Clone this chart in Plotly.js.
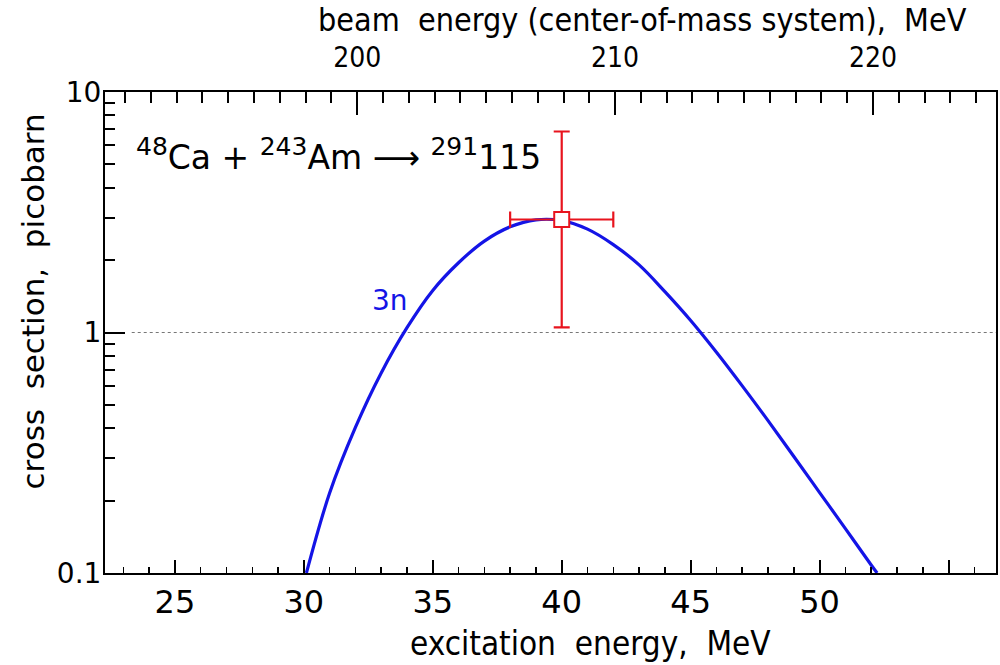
<!DOCTYPE html>
<html>
<head>
<meta charset="utf-8">
<script src="https://cdn.plot.ly/plotly-3.0.1.min.js"></script>
<style>
  html, body { margin: 0; padding: 0; background: #ffffff; }
  #chart { width: 1000px; height: 665px; }
</style>
</head>
<body>
<div id="chart"></div>
<script>
// ---- data ----
// calculated 3n evaporation cross section (excitation energy E*, MeV ; sigma, pb)
var curveE = [30.1, 31, 32, 33, 34, 35, 36, 37, 38, 39, 40, 41, 42, 43, 44, 45, 46, 47, 48, 49, 50, 51, 52, 52.23];
var curveSigma = [0.1, 0.215, 0.403, 0.679, 1.047, 1.496, 1.95, 2.40, 2.75, 2.94, 2.92, 2.69, 2.32, 1.91,
                  1.479, 1.122, 0.828, 0.600, 0.430, 0.305, 0.216, 0.153, 0.108, 0.1];

// measured point
var expE = [40];
var expSigma = [2.95];
var expErrE = [2.0];
var expErrUp = [3.9];
var expErrDown = [1.9];

// conversion E* -> E_cm (MeV)
var Qoffset = 167.93;

// axes
var xRange = [22.29, 56.84];
var xTickVals = [25, 30, 35, 40, 45, 50, 55];
var xTickText = ['25', '30', '35', '40', '45', '50', ''];
var topTickVals = [200, 210, 220];
var topTickText = ['200', '210', '220'];
var yTickVals = [0.1, 1, 10];
var yTickText = ['0.1', '1', '10'];
var refLevel = 1;

// label for the curve (position in data units)
var curveLabel = '3n';
var curveLabelE = 33.33;
var curveLabelSigma = 1.36;

// texts
var supStyle = 'font-size:25px';
var reactionText = '<sup><span style="' + supStyle + '">48</span></sup>Ca + ' +
                   '<sup><span style="' + supStyle + '">243</span></sup>Am \u27F6 ' +
                   '<sup><span style="' + supStyle + '">291</span></sup>115';
var xTitle = 'excitation  energy,  MeV';
var topTitle = 'beam  energy (center-of-mass system),  MeV';
var yTitle = 'cross  section,  picobarn';

// minor tick positions on log axis
var yMinor = [];
[0.1, 1].forEach(function (d) { for (var k = 2; k <= 9; k++) yMinor.push(+(d * k).toFixed(3)); });

var wide = '"DejaVu Sans", Verdana, sans-serif';
var narrow = '"DejaVu Sans Condensed", "Liberation Sans Narrow", "Liberation Sans", Arial, sans-serif';

var traces = [
  {
    x: curveE, y: curveSigma, type: 'scatter', mode: 'lines',
    line: { color: '#1414e6', width: 3.2, shape: 'spline', smoothing: 1 },
    hoverinfo: 'skip', showlegend: false
  },
  {
    x: expE, y: expSigma, type: 'scatter', mode: 'markers',
    marker: { symbol: 'square', size: 15, color: '#ffffff', line: { color: '#e8141e', width: 2 } },
    error_x: { type: 'data', array: expErrE, color: '#e8141e', thickness: 2.2, width: 8 },
    error_y: { type: 'data', symmetric: false, array: expErrUp, arrayminus: expErrDown,
               color: '#e8141e', thickness: 2.2, width: 8 },
    showlegend: false
  },
  {
    // carrier for the top (center-of-mass) axis
    x: [xRange[0] + Qoffset, xRange[1] + Qoffset], y: [refLevel, refLevel],
    xaxis: 'x2', type: 'scatter', mode: 'lines', line: { width: 0, color: 'rgba(0,0,0,0)' },
    hoverinfo: 'skip', showlegend: false
  }
];

var layout = {
  width: 1000, height: 665,
  margin: { l: 105, r: 4, t: 92, b: 92 },
  paper_bgcolor: '#ffffff', plot_bgcolor: '#ffffff',
  showlegend: false,
  font: { family: wide, color: '#000000' },
  xaxis: {
    range: xRange, showgrid: false, zeroline: false,
    showline: true, linecolor: '#000000', linewidth: 2, mirror: false,
    tickmode: 'array', tickvals: xTickVals, ticktext: xTickText,
    ticks: 'inside', ticklen: 13, tickwidth: 2, tickcolor: '#000000',
    tickfont: { family: wide, size: 32, color: '#000000' },
    ticklabelstandoff: 0,
    minor: { dtick: 1, tick0: 0, ticks: 'inside', ticklen: 6, tickwidth: 1.5, tickcolor: '#000000', showgrid: false }
  },
  xaxis2: {
    overlaying: 'x', side: 'top', anchor: 'y',
    range: [xRange[0] + Qoffset, xRange[1] + Qoffset], showgrid: false, zeroline: false,
    showline: true, linecolor: '#000000', linewidth: 2,
    tickmode: 'array', tickvals: topTickVals, ticktext: topTickText,
    ticks: 'inside', ticklen: 23, tickwidth: 2, tickcolor: '#000000',
    tickfont: { family: narrow, size: 28, color: '#000000' },
    ticklabelstandoff: 12,
    minor: { dtick: 1, tick0: 0, ticks: 'inside', ticklen: 11, tickwidth: 2, tickcolor: '#000000', showgrid: false }
  },
  yaxis: {
    type: 'log', range: [-1, 1], showgrid: false, zeroline: false,
    showline: true, linecolor: '#000000', linewidth: 2, mirror: true,
    tickmode: 'array', tickvals: yTickVals, ticktext: yTickText,
    ticks: 'inside', ticklen: 20, tickwidth: 2, tickcolor: '#000000',
    tickfont: { family: wide, size: 28, color: '#000000' },
    ticklabelstandoff: -4,
    minor: { tickvals: yMinor, ticks: 'inside', ticklen: 10, tickwidth: 2, tickcolor: '#000000', showgrid: false }
  },
  shapes: [
    { type: 'line', xref: 'paper', yref: 'y', x0: 0.03, x1: 1, y0: refLevel, y1: refLevel,
      line: { color: '#777777', width: 1, dash: 'dot' }, layer: 'below' }
  ],
  annotations: [
    { text: reactionText, xref: 'paper', yref: 'paper', x: 0.033, y: (573 - 155) / 480, xanchor: 'left', yanchor: 'middle',
      showarrow: false, font: { family: wide, size: 33, color: '#000000' } },
    { text: curveLabel, xref: 'x', yref: 'y', x: curveLabelE, y: Math.log10(curveLabelSigma),
      xanchor: 'center', yanchor: 'middle',
      showarrow: false, font: { family: wide, size: 28, color: '#1414e6' } },
    { text: topTitle, xref: 'paper', yref: 'paper', x: (642 - 105) / 891, y: 1, yshift: 72,
      xanchor: 'center', yanchor: 'middle', showarrow: false,
      font: { family: narrow, size: 32, color: '#000000' } },
    { text: xTitle, xref: 'paper', yref: 'paper', x: (590 - 105) / 891, y: 0, yshift: -70,
      xanchor: 'center', yanchor: 'middle', showarrow: false,
      font: { family: narrow, size: 33, color: '#000000' } },
    { text: yTitle, xref: 'paper', yref: 'paper', x: 0, xshift: -72, y: (573 - 302) / 480,
      xanchor: 'center', yanchor: 'middle', textangle: -90, showarrow: false,
      font: { family: wide, size: 31, color: '#000000' } }
  ]
};

Plotly.newPlot('chart', traces, layout, { staticPlot: true, displayModeBar: false });
</script>
</body>
</html>
